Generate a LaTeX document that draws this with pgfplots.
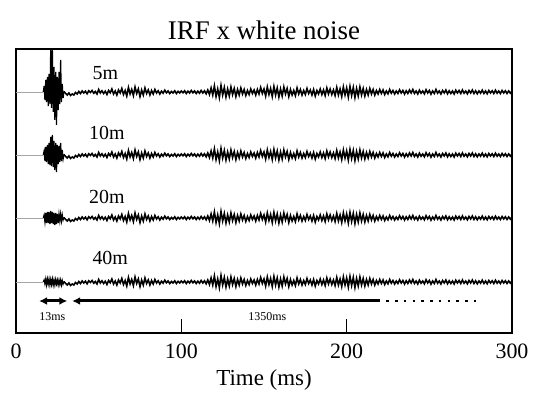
\documentclass[border=0pt]{standalone}
\usepackage{fontspec}
\setmainfont{Liberation Serif}
\usepackage{pgfplots}
\pgfplotsset{compat=1.18}
\usepackage{pgfplotstable}
\usetikzlibrary{arrows.meta}

% common noise after the direct sound (offset from each baseline)
\pgfplotstableread{
x n
29 0.5
30 -1.5
31 -3.0
32 -1.0
33 -3.5
34 -2.0
35 -3.0
36 -0.5
37 -2.0
38 0.5
39 -1.5
40 1.0
41 -1.0
42 0.8
43 -1.8
44 1.2
45 -0.5
46 1.5
47 -1.2
48 0.5
49 -2.0
50 2.5
51 -1.0
52 1.2
53 -1.5
54 0.8
55 -2.5
56 1.5
57 -0.8
58 3.0
59 -2.0
60 1.0
61 -3.0
62 2.0
63 -1.0
64 3.5
65 -2.5
66 1.5
67 -4.0
68 4.5
69 -2.0
70 2.5
71 -3.5
72 5.0
73 -1.5
74 3.0
75 -4.5
76 2.0
77 -3.0
78 4.0
79 -1.5
80 2.0
81 -3.0
82 1.5
83 -2.0
84 2.5
85 -1.0
86 1.2
87 -2.0
88 0.8
89 -1.2
90 1.8
91 -0.8
92 1.0
93 -1.5
94 0.5
95 -1.0
96 1.2
97 -1.5
98 0.6
99 -1.0
100 1.0
101 -0.8
102 1.2
103 -1.5
104 0.8
105 -1.0
106 1.5
107 -0.8
108 1.0
109 -1.5
110 0.8
111 -1.2
112 1.5
113 -1.0
114 1.2
115 -1.8
116 2.0
117 -2.5
118 4.0
119 -3.0
120 6.0
121 -4.5
122 3.0
123 -5.5
124 6.5
125 -3.0
126 4.5
127 -5.0
128 3.0
129 -4.0
130 5.0
131 -2.5
132 3.5
133 -4.5
134 2.5
135 -3.0
136 4.0
137 -2.0
138 2.5
139 -3.5
140 1.5
141 -2.5
142 3.0
143 -1.5
144 2.0
145 -3.0
146 2.5
147 -2.0
148 4.5
149 -1.5
150 3.0
151 -4.0
152 5.0
153 -2.5
154 3.5
155 -4.5
156 5.5
157 -3.0
158 4.0
159 -5.0
160 3.0
161 -4.0
162 5.0
163 -2.0
164 3.5
165 -4.5
166 2.5
167 -3.0
168 1.5
169 -3.5
170 4.0
171 -2.0
172 2.5
173 -3.0
174 1.5
175 -2.5
176 3.5
177 -1.5
178 2.0
179 -3.0
180 2.5
181 -4.0
182 1.5
183 -2.0
184 3.0
185 -2.5
186 2.0
187 -3.5
188 4.0
189 -2.0
190 3.0
191 -2.5
192 2.0
193 -3.5
194 4.5
195 -3.0
196 3.0
197 -4.5
198 5.0
199 -3.0
200 4.0
201 -5.0
202 5.5
203 -3.5
204 4.5
205 -5.5
206 3.5
207 -4.0
208 5.0
209 -3.0
210 3.5
211 -4.0
212 2.5
213 -3.0
214 3.5
215 -2.0
216 2.5
217 -3.0
218 1.5
219 -2.0
220 2.5
221 -1.5
222 2.0
223 -2.5
224 1.0
225 -1.8
226 2.5
227 -1.2
228 1.5
229 -2.0
230 1.0
231 -1.5
232 2.2
233 -1.0
234 1.5
235 -2.0
236 1.2
237 -1.5
238 2.0
239 -1.0
240 2.5
241 -1.5
242 1.0
243 -2.0
244 1.8
245 -1.2
246 1.0
247 -1.8
248 2.2
249 -1.0
250 1.5
251 -2.2
252 1.0
253 -1.5
254 2.5
255 -1.2
256 1.0
257 -2.0
258 1.5
259 -1.0
260 2.0
261 -1.8
262 1.2
263 -1.5
264 1.0
265 -2.0
266 1.8
267 -1.0
268 1.5
269 -1.5
270 2.0
271 -1.2
272 1.0
273 -1.8
274 1.5
275 -1.0
276 2.0
277 -1.5
278 1.2
279 -1.8
280 1.0
281 -1.2
282 1.8
283 -1.5
284 1.0
285 -1.8
286 1.5
287 -1.0
288 1.2
289 -1.5
290 1.8
291 -1.2
292 1.0
293 -1.5
294 1.5
295 -1.0
296 1.2
297 -1.5
298 1.0
299 -1.2
300 0.8
}\noise

% direct-sound bursts: a=5m, b=10m, c=20m, d=40m
\pgfplotstableread{
x a b c d
16.5 0 0 0 0
17 6 4 3 2
17.5 -8 -6 -4 -2
18 12 8 5 3
18.5 -10 -7 -5 -3
19 15 10 6 3
19.5 -14 -9 -5 -2
20 18 12 6 3
20.5 -12 -10 -6 -3
21 43 18 7 2.5
21.5 -16 -11 -5 -2.5
22 43 20 6 3
22.5 -20 -12 -6 -3
23 25 14 5 2
23.5 -28 -15 -7 -3
24 20 12 5 2.5
24.5 -33 -17 -6 -2
25 15 10 4 2
25.5 -18 -9 -5 -3
26 20 9 4 2
26.5 -12 -7 -3 -2.5
27 32 12 4 2
27.5 -10 -6 -3 -3
28 8 5 3 1.5
28.5 -6 -4 -2 -2
29 0.5 0.5 0.5 0.5
}\burst

\begin{document}
\begin{tikzpicture}
\begin{axis}[
  name=ax,
  scale only axis,
  width=248bp, height=142bp,
  xmin=0, xmax=300, ymin=0, ymax=284,
  xtick={0,100,200,300},
  ytick=\empty,
  xtick pos=left,
  tick align=inside,
  major tick length=7bp,
  tick style={black, line width=0.5pt},
  axis line style={line width=0.6pt},
  /pgf/number format/assume math mode=true,
  ticklabel style={font=\fontsize{11}{13}\selectfont},
  xticklabel style={yshift=-2bp},
  title={IRF x white noise},
  title style={font=\fontsize{13.5}{16}\selectfont, yshift=-5bp},
  xlabel={Time (ms)},
  xlabel style={font=\fontsize{11.5}{13}\selectfont, inner sep=1bp, yshift=-0.8bp},
  clip=true,
]
% pre-signal baselines
\addplot[gray!70, line width=0.4pt] coordinates {(0,241) (16.5,241)};
\addplot[gray!70, line width=0.4pt] coordinates {(0,178) (16.5,178)};
\addplot[gray!70, line width=0.4pt] coordinates {(0,115) (16.5,115)};
\addplot[gray!70, line width=0.4pt] coordinates {(0,51) (16.5,51)};
% thick segment on top border
\addplot[black, line width=1.2pt] coordinates {(0,284) (49,284)};
% 5m
\addplot[black, line width=0.6pt] table[x=x, y expr=\thisrow{a}+241] {\burst};
\addplot[black, line width=0.8pt] table[x=x, y expr=\thisrow{n}+241] {\noise};
% 10m
\addplot[black, line width=0.6pt] table[x=x, y expr=\thisrow{b}+178] {\burst};
\addplot[black, line width=0.8pt] table[x=x, y expr=\thisrow{n}+178] {\noise};
% 20m
\addplot[black, line width=0.6pt] table[x=x, y expr=\thisrow{c}+115] {\burst};
\addplot[black, line width=0.8pt] table[x=x, y expr=\thisrow{n}+115] {\noise};
% 40m
\addplot[black, line width=0.6pt] table[x=x, y expr=\thisrow{d}+51] {\burst};
\addplot[black, line width=0.8pt] table[x=x, y expr=\thisrow{n}+51] {\noise};
% arrows
\addplot[black, line width=1.5pt, {Latex[length=4bp,width=4bp]}-{Latex[length=4bp,width=4bp]}] coordinates {(14,32) (31,32)};
\addplot[black, line width=1.5pt, {Latex[length=4bp,width=4bp]}-] coordinates {(34,32) (220,32)};
\addplot[black, line width=1.2pt, dash pattern=on 1.2pt off 3.2pt] coordinates {(224,32) (279,32)};
% labels
\node[font=\fontsize{10}{11}\selectfont] at (axis cs:54,260) {5m};
\node[font=\fontsize{10}{11}\selectfont] at (axis cs:55,200) {10m};
\node[font=\fontsize{10}{11}\selectfont] at (axis cs:55,136) {20m};
\node[font=\fontsize{10}{11}\selectfont] at (axis cs:57,75) {40m};
\node[font=\fontsize{6}{7}\selectfont] at (axis cs:22,16) {13ms};
\node[font=\fontsize{6}{7}\selectfont] at (axis cs:152,16) {1350ms};
\end{axis}
\path ([xshift=-8bp,yshift=-28.5bp]ax.south west) rectangle ([xshift=12.5bp,yshift=24.5bp]ax.north east);
\end{tikzpicture}
\end{document}
